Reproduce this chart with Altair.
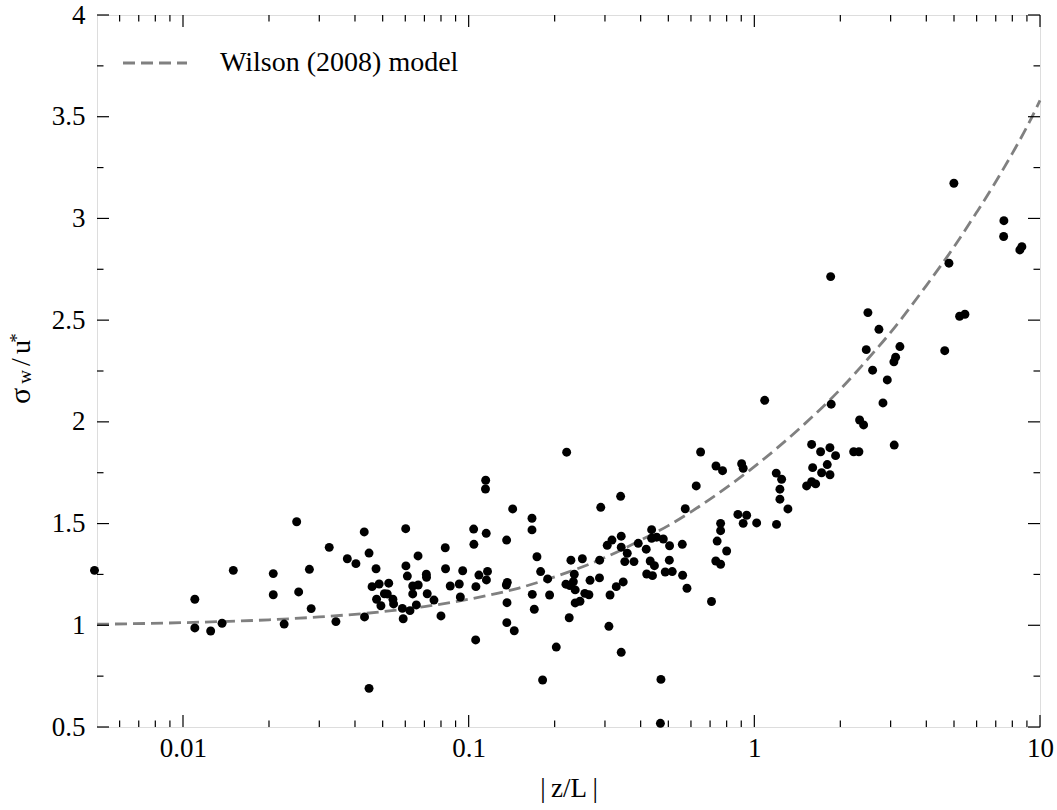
import altair as alt
import pandas as pd

# ---- scatter data: |z/L| and sigma_w/u* ----
zl = [
    0.0049, 0.0110, 0.0110, 0.0125, 0.0137, 0.0150, 0.0207, 0.0207, 0.0226, 0.0250,
    0.0254, 0.0277, 0.0281, 0.0325, 0.0343, 0.0376, 0.0403, 0.0431, 0.0432, 0.0448,
    0.0448, 0.0474, 0.0459, 0.0486, 0.0525, 0.0476, 0.0493, 0.0507, 0.0519, 0.0543,
    0.0546, 0.0586, 0.0590, 0.0602, 0.0603, 0.0610, 0.0623, 0.0637, 0.0637, 0.0665,
    0.0666, 0.0656, 0.0711, 0.0712, 0.0716, 0.0756, 0.0800, 0.0828, 0.0830, 0.0862,
    0.0927, 0.0953, 0.0935, 0.1041, 0.1043, 0.1058, 0.1060, 0.1086, 0.1152, 0.1147,
    0.1145, 0.1164, 0.1154, 0.1358, 0.1355, 0.1365, 0.1362, 0.1360, 0.1444, 0.1426,
    0.1666, 0.1666, 0.1734, 0.1786, 0.1890, 0.1670, 0.1697, 0.1920, 0.1815, 0.2026,
    0.2203, 0.2280, 0.2190, 0.2260, 0.2343, 0.2325, 0.2360, 0.2249, 0.2360, 0.2453,
    0.2500, 0.2550, 0.2636, 0.2660, 0.2874, 0.2870, 0.2900, 0.3055, 0.3174, 0.3125,
    0.3097, 0.3286, 0.3404, 0.3420, 0.3420, 0.3475, 0.3420, 0.3590, 0.3520, 0.3790,
    0.3923, 0.4184, 0.4370, 0.4370, 0.4550, 0.4800, 0.5050, 0.4320, 0.4470, 0.4200,
    0.4400, 0.4876, 0.5160, 0.5040, 0.4710, 0.4690, 0.5595, 0.5610, 0.5810, 0.5730,
    0.6260, 0.6486, 0.7080, 0.7340, 0.7740, 0.9026, 0.9140, 1.193, 1.246, 1.229,
    1.229, 1.311, 1.196, 0.876, 0.940, 0.914, 1.019, 0.762, 0.762, 0.741,
    0.800, 0.733, 0.762, 1.087, 1.587, 1.706, 1.839, 1.925, 1.600, 1.800,
    1.720, 1.840, 1.524, 1.587, 1.639, 1.858, 2.227, 2.323, 2.336, 2.413,
    2.498, 2.730, 2.465, 2.594, 2.920, 2.820, 3.233, 3.123, 3.080, 3.088,
    4.640, 4.800, 4.995, 5.230, 5.460, 7.475, 7.460, 8.500, 8.640, 1.850,
]
sigma = [
    1.270, 1.128, 0.987, 0.972, 1.010, 1.270, 1.254, 1.150, 1.006, 1.509,
    1.164, 1.275, 1.082, 1.383, 1.018, 1.327, 1.303, 1.459, 1.041, 1.355,
    0.690, 1.278, 1.190, 1.203, 1.207, 1.128, 1.096, 1.155, 1.154, 1.128,
    1.105, 1.083, 1.032, 1.475, 1.292, 1.242, 1.072, 1.193, 1.154, 1.341,
    1.198, 1.100, 1.251, 1.236, 1.155, 1.124, 1.046, 1.381, 1.278, 1.193,
    1.203, 1.268, 1.139, 1.473, 1.398, 0.928, 1.190, 1.247, 1.452, 1.713,
    1.670, 1.265, 1.223, 1.419, 1.198, 1.211, 1.111, 1.013, 0.973, 1.572,
    1.526, 1.469, 1.337, 1.264, 1.228, 1.152, 1.079, 1.149, 0.731, 0.893,
    1.851, 1.320, 1.202, 1.195, 1.251, 1.214, 1.174, 1.037, 1.110, 1.118,
    1.327, 1.157, 1.150, 1.221, 1.320, 1.233, 1.580, 1.393, 1.419, 1.149,
    0.995, 1.190, 1.634, 1.438, 1.384, 1.213, 0.867, 1.354, 1.313, 1.313,
    1.403, 1.374, 1.470, 1.428, 1.433, 1.424, 1.391, 1.316, 1.293, 1.252,
    1.244, 1.262, 1.264, 1.320, 0.734, 0.518, 1.398, 1.246, 1.182, 1.573,
    1.685, 1.852, 1.117, 1.783, 1.760, 1.794, 1.772, 1.748, 1.718, 1.669,
    1.620, 1.572, 1.496, 1.545, 1.541, 1.501, 1.503, 1.501, 1.465, 1.414,
    1.365, 1.316, 1.300, 2.106, 1.889, 1.853, 1.873, 1.834, 1.775, 1.790,
    1.750, 1.740, 1.685, 1.706, 1.695, 2.087, 1.853, 1.853, 2.009, 1.985,
    2.537, 2.455, 2.355, 2.254, 2.206, 2.093, 2.370, 2.318, 2.295, 1.886,
    2.350, 2.780, 3.173, 2.519, 2.529, 2.989, 2.911, 2.845, 2.861, 2.714,
]

# ---- Wilson (2008) model curve ----
model_zl = [0.005, 0.01, 0.02, 0.03, 0.05, 0.07, 0.1, 0.15, 0.2, 0.3, 0.4, 0.5,
            0.7, 1, 1.5, 2, 2.5, 3, 4, 5, 6, 7, 8, 9, 10]
model_sigma = [1.005, 1.013, 1.027, 1.041, 1.067, 1.092, 1.128, 1.183, 1.238, 1.333,
               1.418, 1.49, 1.62, 1.78, 1.99, 2.16, 2.31, 2.44, 2.67, 2.86, 3.03,
               3.18, 3.32, 3.45, 3.58]

# ---- tick positions ----
x_major = [0.01, 0.1, 1, 10]
x_minor = [0.006, 0.007, 0.008, 0.009,
           0.02, 0.03, 0.04, 0.05, 0.06, 0.07, 0.08, 0.09,
           0.2, 0.3, 0.4, 0.5, 0.6, 0.7, 0.8, 0.9,
           2, 3, 4, 5, 6, 7, 8, 9]
y_major = [0.5, 1, 1.5, 2, 2.5, 3, 3.5, 4]
y_minor = [0.75, 1.25, 1.75, 2.25, 2.75, 3.25, 3.75]

legend_label = "Wilson (2008) model"
x_title = "|\u2009z/L\u2009|"

W, H = 943, 712
FONT = "Liberation Serif"
LINE_GRAY = "#808080"

xscale = alt.Scale(type="log", domain=[0.005, 10], nice=False)
yscale = alt.Scale(domain=[0.5, 4], nice=False, zero=False)

pts = pd.DataFrame({"zl": zl, "sigma": sigma})
model = pd.DataFrame({"zl": model_zl, "sigma": model_sigma})

xaxis = alt.Axis(values=x_major, format="~g", ticks=False, domain=False, grid=False,
                 labelFont=FONT, labelFontSize=27, labelColor="black", labelPadding=8,
                 title=x_title, titleFont=FONT, titleFontSize=27, titleFontWeight="normal",
                 titleColor="black", titlePadding=14, labelFlush=False)
yaxis = alt.Axis(values=y_major, format="~g", ticks=False, domain=False, grid=False,
                 labelFont=FONT, labelFontSize=27, labelColor="black", labelPadding=12,
                 title=None, labelFlush=False)

curve = alt.Chart(model).mark_line(
    color=LINE_GRAY, strokeWidth=2.8, strokeDash=[12, 6], interpolate="monotone"
).encode(
    x=alt.X("zl:Q", scale=xscale, axis=xaxis),
    y=alt.Y("sigma:Q", scale=yscale, axis=yaxis),
)

dots = alt.Chart(pts).mark_circle(size=80, color="black", opacity=1).encode(
    x=alt.X("zl:Q", scale=xscale),
    y=alt.Y("sigma:Q", scale=yscale),
)

def xticks(vals, length):
    d = pd.DataFrame({"v": vals})
    bot = alt.Chart(d).mark_rule(color="black", strokeWidth=1.2).encode(
        x=alt.X("v:Q", scale=xscale), y=alt.value(H), y2=alt.value(H - length))
    top = alt.Chart(d).mark_rule(color="black", strokeWidth=1.2).encode(
        x=alt.X("v:Q", scale=xscale), y=alt.value(0), y2=alt.value(length))
    return [bot, top]

def yticks(vals, length):
    d = pd.DataFrame({"v": vals})
    left = alt.Chart(d).mark_rule(color="black", strokeWidth=1.2).encode(
        y=alt.Y("v:Q", scale=yscale), x=alt.value(0), x2=alt.value(length))
    right = alt.Chart(d).mark_rule(color="black", strokeWidth=1.2).encode(
        y=alt.Y("v:Q", scale=yscale), x=alt.value(W), x2=alt.value(W - length))
    return [left, right]

ticks = xticks(x_major, 12) + xticks(x_minor, 6.5) + yticks(y_major, 12) + yticks(y_minor, 6.5)

one = pd.DataFrame({"a": [0]})
leg_line = alt.Chart(one).mark_rule(color=LINE_GRAY, strokeWidth=2.8, strokeDash=[12, 6]).encode(
    x=alt.value(26), x2=alt.value(90), y=alt.value(48))
leg_text = alt.Chart(one).mark_text(
    text=legend_label, font=FONT, fontSize=28, align="left", baseline="middle", color="black"
).encode(x=alt.value(123), y=alt.value(48))

# y-axis title: sigma_w / u_*
def ytitle_piece(txt, size, xpos, ypos):
    return alt.Chart(one).mark_text(
        text=txt, font=FONT, fontSize=size, angle=270, align="center",
        baseline="alphabetic", color="black"
    ).encode(x=alt.value(xpos), y=alt.value(ypos))

ytitle = [
    ytitle_piece("σ", 30, -67, 381),
    ytitle_piece("w", 19, -66, 362),
    ytitle_piece("/", 28, -67, 347),
    ytitle_piece("u", 28, -67, 332),
    ytitle_piece("*", 19, -74, 323),
]

chart = alt.layer(curve, dots, *ticks, leg_line, leg_text, *ytitle).properties(
    width=W, height=H,
    padding={"left": 97, "top": 15, "right": 17, "bottom": 83},
    autosize=alt.AutoSizeParams(type="none"),
).configure_view(stroke="black", strokeWidth=1.4).configure(background="white")

chart.save("out.html", embed_options={"renderer": "svg", "actions": False})
